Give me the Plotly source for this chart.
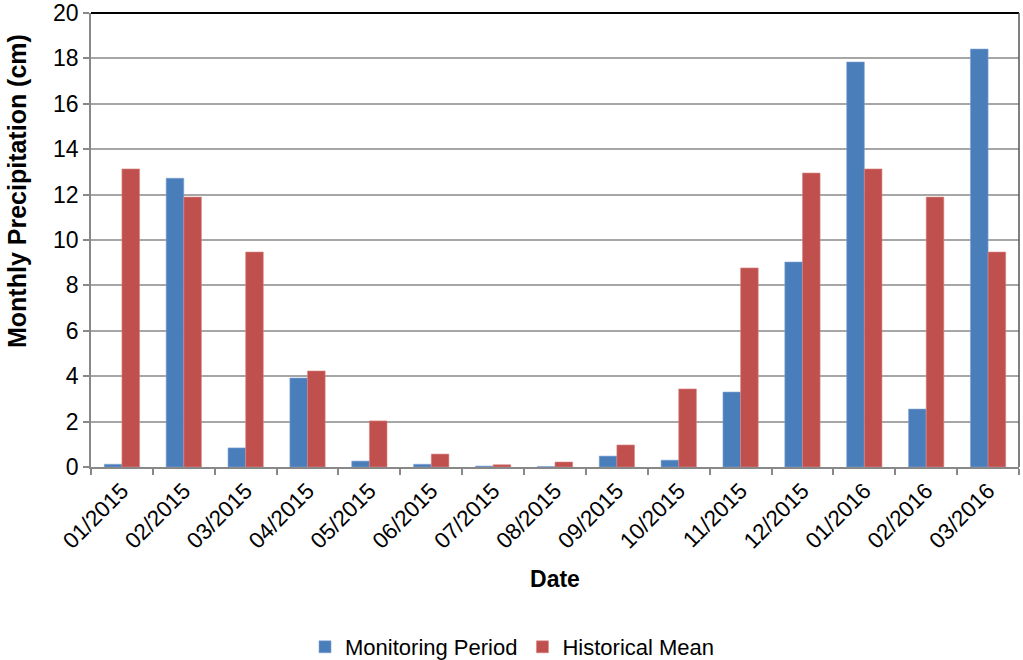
import plotly.graph_objects as go

dates = ["01/2015", "02/2015", "03/2015", "04/2015", "05/2015", "06/2015", "07/2015",
         "08/2015", "09/2015", "10/2015", "11/2015", "12/2015", "01/2016", "02/2016", "03/2016"]
monitoring = [0.12, 12.72, 0.84, 3.92, 0.26, 0.12, 0.04, 0.02, 0.48, 0.3, 3.3, 9.03, 17.84, 2.55, 18.41]
historical = [13.13, 11.89, 9.47, 4.23, 2.03, 0.57, 0.1, 0.22, 0.97, 3.44, 8.77, 12.95, 13.13, 11.89, 9.47]

FONT = "Liberation Sans, Arial, sans-serif"

fig = go.Figure()
fig.add_trace(go.Bar(x=dates, y=monitoring, name="Monitoring Period",
                     marker=dict(color="#4A7EBB", line=dict(color="#7FA3D3", width=0.6))))
fig.add_trace(go.Bar(x=dates, y=historical, name="Historical Mean",
                     marker=dict(color="#C0504D", line=dict(color="#D88886", width=0.6))))

L, R, T, B = 91, 4, 13, 193
W, H = 1023, 660
pw = W - L - R
ph = H - T - B

fig.update_layout(
    width=W, height=H,
    margin=dict(l=L, r=R, t=T, b=B, autoexpand=False),
    paper_bgcolor="white", plot_bgcolor="white",
    barmode="group", bargap=0.43, bargroupgap=0,
    font=dict(family=FONT, size=22, color="black"),
    showlegend=True,
    legend=dict(orientation="h", xref="container", yref="container",
                x=0.501, xanchor="center", y=1 - 647 / H, yanchor="middle",
                font=dict(size=22), traceorder="normal"),
    xaxis=dict(
        type="category", tickangle=-45, tickson="boundaries",
        ticks="outside", ticklen=6, tickcolor="#888888", tickwidth=1.5,
        showline=True, linecolor="#888888", linewidth=1.5,
        showgrid=False, tickfont=dict(size=22.5),
        title=dict(text="<b>Date</b>", font=dict(size=23), standoff=18),
        automargin=False,
    ),
    yaxis=dict(
        range=[0, 20], dtick=2, tick0=0,
        ticks="outside", ticklen=6, tickcolor="#888888", tickwidth=1.5,
        showline=True, linecolor="#888888", linewidth=1.5,
        showgrid=True, gridcolor="#A6A6A6", gridwidth=1.5,
        zeroline=False, tickfont=dict(size=23), automargin=False,
    ),
    annotations=[
        dict(text="<b>Monthly Precipitation (cm)</b>", textangle=-90,
             xref="paper", yref="paper", x=(17 - L) / pw, y=(H - B - 191) / ph,
             xanchor="center", yanchor="middle", showarrow=False,
             font=dict(size=25, color="black")),
    ],
    shapes=[
        dict(type="line", xref="paper", yref="paper", x0=0, x1=1, y0=1, y1=1,
             line=dict(color="black", width=2)),
        dict(type="line", xref="paper", yref="paper", x0=1, x1=1, y0=0, y1=1,
             line=dict(color="#555555", width=1.5)),
    ],
)

fig.write_html("out.html", config={"displayModeBar": False},
               post_script="document.body.style.margin='0';document.body.style.overflow='hidden';")
